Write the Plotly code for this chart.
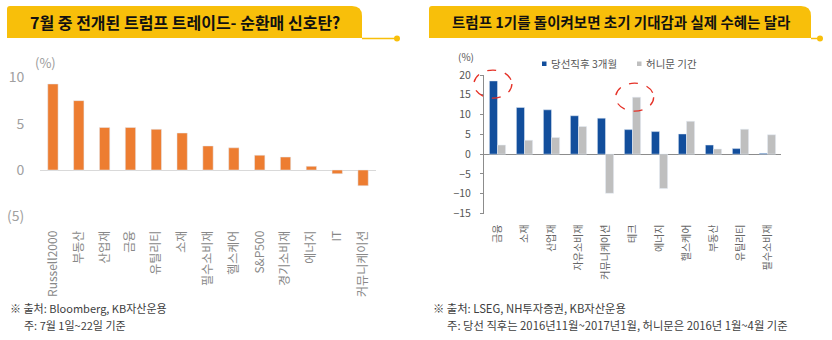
import plotly.graph_objects as go

# ---------------- data ----------------
left_categories = ["Russell2000", "부동산", "산업재", "금융", "유틸리티", "소재", "필수소비재",
                   "헬스케어", "S&P500", "경기소비재", "에너지", "IT", "커뮤니케이션"]
left_values = [9.3, 7.5, 4.6, 4.6, 4.4, 4.0, 2.6, 2.4, 1.6, 1.4, 0.4, -0.4, -1.7]
left_tickvals = [-5, 0, 5, 10]
left_ticktext = ["(5)", "0", "5", "10"]

right_categories = ["금융", "소재", "산업재", "자유소비재", "커뮤니케이션", "테크", "에너지",
                    "헬스케어", "부동산", "유틸리티", "필수소비재"]
right_after_election = [18.5, 11.8, 11.2, 9.7, 9.1, 6.2, 5.7, 5.1, 2.3, 1.4, 0.2]
right_honeymoon = [2.3, 3.5, 4.2, 7.0, -9.9, 14.4, -8.7, 8.3, 1.3, 6.3, 4.9]
right_series_names = ["당선직후 3개월", "허니문 기간"]
right_tickvals = [-15, -10, -5, 0, 5, 10, 15, 20]

left_title = "7월 중 전개된 트럼프 트레이드- 순환매 신호탄?"
right_title = "트럼프 1기를 돌이켜보면 초기 기대감과 실제 수혜는 달라"
left_notes = ["※ 출처: Bloomberg, KB자산운용", "주: 7월 1일~22일 기준"]
right_notes = ["※ 출처: LSEG, NH투자증권, KB자산운용",
               "주: 당선 직후는 2016년11월~2017년1월, 허니문은 2016년 1월~4월 기준"]

# ---------------- styles ----------------
W, H = 832, 340
FONT = "Noto Sans CJK KR"
ORANGE = "#ED7D31"
BLUE = "#124E9C"
GREY = "#BFBFBF"
YELLOW = "#F8BF0A"

# right plot geometry (pixels)
R_X0, R_X1 = 484, 781
R_Y_BOTTOM, R_Y_TOP = 213.5, 75
R_RANGE = [-15, 20]


def fx(p):
    return p / W


def fy(p):
    return 1 - p / H


fig = go.Figure()

fig.add_trace(go.Bar(x=left_categories, y=left_values, marker_color=ORANGE,
                     xaxis="x", yaxis="y", showlegend=False))
fig.add_trace(go.Bar(x=right_categories, y=right_after_election, marker_color=BLUE,
                     name=right_series_names[0], xaxis="x2", yaxis="y2", showlegend=False,
                     width=0.3, offset=-0.3))
fig.add_trace(go.Bar(x=right_categories, y=right_honeymoon, marker_color=GREY,
                     name=right_series_names[1], xaxis="x2", yaxis="y2", showlegend=False,
                     width=0.3, offset=0.0))

shapes = []
annotations = []


def banner(x0, x1, y0, y1, xdot):
    r = 10
    r2 = 3
    path = (f"M {fx(x0)},{fy(y1)} L {fx(x0)},{fy(y0 + r2)} Q {fx(x0)},{fy(y0)} {fx(x0 + r2)},{fy(y0)} "
            f"L {fx(x1 - r)},{fy(y0)} Q {fx(x1)},{fy(y0)} {fx(x1)},{fy(y0 + r)} "
            f"L {fx(x1)},{fy(y1)} Z")
    shapes.append(dict(type="path", xref="paper", yref="paper", path=path,
                       fillcolor=YELLOW, line=dict(width=0), layer="below"))
    shapes.append(dict(type="line", xref="paper", yref="paper",
                       x0=fx(x1), x1=fx(xdot), y0=fy(y1 + 0.5), y1=fy(y1 + 0.5),
                       line=dict(color=YELLOW, width=1.5)))
    shapes.append(dict(type="circle", xref="paper", yref="paper",
                       x0=fx(xdot - 3), x1=fx(xdot + 3), y0=fy(y1 + 3.5), y1=fy(y1 - 2.5),
                       fillcolor=YELLOW, line=dict(width=0)))


banner(7, 362, 6, 38, 397)
banner(429, 811, 6, 38, 820)

annotations.append(dict(text=f"<b>{left_title}</b>", x=fx(185), y=fy(22), xref="paper", yref="paper",
                        showarrow=False, xanchor="center", yanchor="middle",
                        font=dict(family=FONT, size=16, color="#111111")))
annotations.append(dict(text=f"<b>{right_title}</b>", x=fx(621), y=fy(22), xref="paper", yref="paper",
                        showarrow=False, xanchor="center", yanchor="middle",
                        font=dict(family=FONT, size=14.5, color="#111111")))

# unit labels
annotations.append(dict(text="(%)", x=fx(45), y=fy(62), xref="paper", yref="paper", showarrow=False,
                        xanchor="center", yanchor="middle", font=dict(family=FONT, size=13, color="#9a9a9a")))
annotations.append(dict(text="(%)", x=fx(466), y=fy(57), xref="paper", yref="paper", showarrow=False,
                        xanchor="center", yanchor="middle", font=dict(family=FONT, size=10, color="#555555")))

# manual legend
leg_items = [(542, 549, BLUE, right_series_names[0]), (637, 644, GREY, right_series_names[1])]
for sx, tx, col, name in leg_items:
    shapes.append(dict(type="rect", xref="paper", yref="paper", x0=fx(sx), x1=fx(sx + 4.5),
                       y0=fy(66), y1=fy(61.5), fillcolor=col, line=dict(width=0)))
    annotations.append(dict(text=name, x=fx(tx), y=fy(63.5), xref="paper", yref="paper", showarrow=False,
                            xanchor="left", yanchor="middle",
                            font=dict(family=FONT, size=10.5, color="#555555")))

# footnotes
note_specs = [(left_notes, 8, 22, 11), (right_notes, 431, 445, 11.3)]
for notes, x_first, x_second, fsize in note_specs:
    for i, t in enumerate(notes):
        annotations.append(dict(text=t, x=fx(x_first if i == 0 else x_second), y=fy(308 + 16.5 * i),
                                xref="paper", yref="paper", showarrow=False,
                                xanchor="left", yanchor="middle",
                                font=dict(family=FONT, size=fsize, color="#404040")))


# red dashed highlight ellipses around notable bars (positions derived from data)
def rx_px(idx):
    step = (R_X1 - R_X0) / len(right_categories)
    return R_X0 + (idx + 0.5) * step


def ry_px(v):
    return R_Y_BOTTOM - (v - R_RANGE[0]) * (R_Y_BOTTOM - R_Y_TOP) / (R_RANGE[1] - R_RANGE[0])


highlights = [("금융", right_after_election, -0.17, -0.8), ("테크", right_honeymoon, 0.08, 0.0)]
for cat, series, off, dv in highlights:
    i = right_categories.index(cat)
    cxp = rx_px(i + off)
    cyp = ry_px(series[i] + dv)
    shapes.append(dict(type="circle", xref="paper", yref="paper",
                       x0=fx(cxp - 19), x1=fx(cxp + 19), y0=fy(cyp + 14), y1=fy(cyp - 14),
                       line=dict(color="#E53127", width=1.3, dash="dash")))

fig.update_layout(
    width=W, height=H,
    margin=dict(l=0, r=0, t=0, b=0),
    paper_bgcolor="white", plot_bgcolor="white",
    font=dict(family=FONT),
    barmode="overlay",
    bargap=0.6,
    shapes=shapes,
    annotations=annotations,
    showlegend=False,
    xaxis=dict(domain=[fx(40), fx(376)], anchor="y", tickangle=-90, showgrid=False, showline=False,
               ticks="outside", ticklen=4, tickcolor="rgba(0,0,0,0)",
               tickfont=dict(family=FONT, size=12, color="#888888"), automargin=False, fixedrange=True),
    yaxis=dict(domain=[fy(220.9), fy(68.25)], anchor="x", range=[-5.5, 11], showgrid=False,
               zeroline=True, zerolinecolor="#d9d9d9", zerolinewidth=1, showline=False,
               tickvals=left_tickvals, ticktext=left_ticktext, ticks="outside", ticklen=12,
               tickcolor="rgba(0,0,0,0)", tickfont=dict(family=FONT, size=14, color="#a0a0a0"),
               automargin=False),
    xaxis2=dict(domain=[fx(R_X0), fx(R_X1)], anchor="y2", tickangle=-90, showgrid=False, showline=False,
                range=[-0.5, len(right_categories) - 0.5],
                ticks="outside", ticklen=6, tickcolor="rgba(0,0,0,0)",
                tickfont=dict(family=FONT, size=10, color="#666666"), automargin=False),
    yaxis2=dict(domain=[fy(R_Y_BOTTOM), fy(R_Y_TOP)], anchor="x2", range=R_RANGE, showgrid=False,
                zeroline=True, zerolinecolor="#8c8c8c", zerolinewidth=1,
                showline=True, linecolor="#8c8c8c", linewidth=1,
                tickvals=right_tickvals, ticks="outside", ticklen=3, tickcolor="#8c8c8c",
                ticklabelstandoff=7,
                tickfont=dict(family=FONT, size=10.5, color="#555555"), automargin=False),
)

fig.write_html("out.html")
